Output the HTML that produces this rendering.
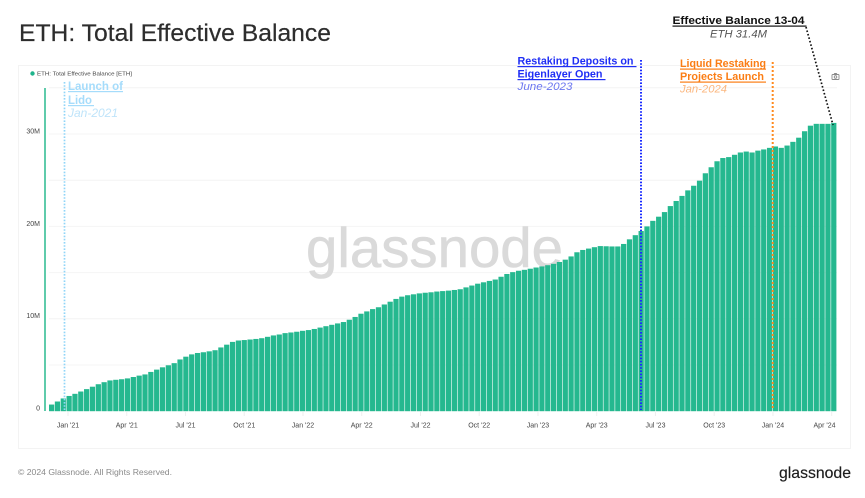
<!DOCTYPE html>
<html lang="en">
<head>
<meta charset="utf-8">
<title>ETH: Total Effective Balance</title>
<style>
html,body{margin:0;padding:0;background:#fff;width:865px;height:498px;overflow:hidden}
svg{display:block;font-family:"Liberation Sans",sans-serif}
</style>
</head>
<body>
<svg id="chart" width="865" height="498" viewBox="0 0 865 498">
  <rect x="0" y="0" width="865" height="498" fill="#ffffff"/>
  <text x="19" y="41" font-size="24" fill="#2d2d2d" stroke="#2d2d2d" stroke-width="0.2" textLength="312" lengthAdjust="spacingAndGlyphs">ETH: Total Effective Balance</text>
  <rect x="18.5" y="65.5" width="832" height="383" fill="#ffffff" stroke="#f3f3f3"/>
  <circle cx="32.5" cy="73.5" r="2.2" fill="#1fb48c"/>
  <text x="37" y="75.5" font-size="5.6" fill="#444" textLength="95" lengthAdjust="spacingAndGlyphs">ETH: Total Effective Balance [ETH]</text>
  <g id="grid"></g>
  <text x="306" y="267" font-size="56" fill="#dadada" stroke="#dadada" stroke-width="0.6" textLength="257" lengthAdjust="spacingAndGlyphs">glassnode</text>
  <rect x="44" y="88" width="2" height="323" fill="#5fcbab"/>
  <g id="bars"></g>
  <g id="yaxis"></g>
  <g id="xaxis"></g>

  <g fill="none" stroke="#8a8a8a" stroke-width="0.9">
    <rect x="832" y="74.5" width="7" height="5" rx="0.8"/>
    <circle cx="835.5" cy="77" r="1.3"/>
    <path d="M834 74.5 l0.6 -1 h1.8 l0.6 1"/>
  </g>

  <line x1="64.5" y1="82" x2="64.5" y2="410" stroke="#90d5f8" stroke-width="1.7" stroke-dasharray="1.6 1.6"/>
  <g>
    <text x="68" y="90" font-size="12" font-weight="bold" fill="#a5dcfb" textLength="55" lengthAdjust="spacingAndGlyphs">Launch of</text>
    <rect x="68" y="91" width="55" height="1.2" fill="#a5dcfb"/>
    <text x="68" y="104" font-size="12" font-weight="bold" fill="#a5dcfb" textLength="24" lengthAdjust="spacingAndGlyphs">Lido</text>
    <rect x="68" y="105" width="26" height="1.2" fill="#a5dcfb"/>
    <text x="68" y="117" font-size="12" font-style="italic" fill="#bfe4fa" textLength="50" lengthAdjust="spacingAndGlyphs">Jan-2021</text>
  </g>

  <line x1="641" y1="60" x2="641" y2="410" stroke="#1a2bff" stroke-width="2" stroke-dasharray="1.6 1.6"/>
  <g>
    <text x="517.5" y="64.5" font-size="11" font-weight="bold" fill="#1f2ef5" textLength="116" lengthAdjust="spacingAndGlyphs">Restaking Deposits on</text>
    <rect x="517.5" y="66" width="119" height="1.2" fill="#1f2ef5"/>
    <text x="517.5" y="77.5" font-size="11" font-weight="bold" fill="#1f2ef5" textLength="85" lengthAdjust="spacingAndGlyphs">Eigenlayer Open</text>
    <rect x="517.5" y="79" width="88" height="1.2" fill="#1f2ef5"/>
    <text x="517.5" y="90" font-size="11" font-style="italic" fill="#6b76f0" textLength="55" lengthAdjust="spacingAndGlyphs">June-2023</text>
  </g>

  <line x1="772.7" y1="62" x2="772.7" y2="410" stroke="#ff8a1f" stroke-width="2" stroke-dasharray="2 2"/>
  <g>
    <text x="680" y="67" font-size="11" font-weight="bold" fill="#fb7d14" textLength="86" lengthAdjust="spacingAndGlyphs">Liquid Restaking</text>
    <rect x="680" y="68.5" width="86" height="1.2" fill="#fb7d14"/>
    <text x="680" y="80" font-size="11" font-weight="bold" fill="#fb7d14" textLength="84" lengthAdjust="spacingAndGlyphs">Projects Launch</text>
    <rect x="680" y="81.5" width="86" height="1.2" fill="#fb7d14"/>
    <text x="680" y="92.5" font-size="11" font-style="italic" fill="#fbb77f" textLength="47" lengthAdjust="spacingAndGlyphs">Jan-2024</text>
  </g>

  <line x1="806" y1="27" x2="833" y2="125" stroke="#111" stroke-width="1.7" stroke-dasharray="1.6 2"/>
  <g>
    <text x="672.5" y="24" font-size="11" font-weight="bold" fill="#111" textLength="132" lengthAdjust="spacingAndGlyphs">Effective Balance 13-04</text>
    <rect x="672.5" y="25.5" width="134" height="1.2" fill="#111"/>
    <text x="710" y="37.5" font-size="11" font-style="italic" fill="#555" textLength="57" lengthAdjust="spacingAndGlyphs">ETH 31.4M</text>
  </g>

  <text x="18" y="475" font-size="8.6" fill="#8a8a8a" textLength="154" lengthAdjust="spacingAndGlyphs">© 2024 Glassnode. All Rights Reserved.</text>
  <text x="779" y="478" font-size="15.8" fill="#1c1c1c" stroke="#1c1c1c" stroke-width="0.15" textLength="72" lengthAdjust="spacingAndGlyphs">glassnode</text>
</svg>
<script>
const balanceValues = [
0.72,1.05,1.38,1.65,1.88,2.13,2.39,2.65,2.92,3.14,
3.33,3.40,3.46,3.55,3.70,3.85,3.98,4.25,4.50,4.75,
4.97,5.20,5.60,5.90,6.15,6.30,6.38,6.48,6.60,6.90,
7.20,7.50,7.65,7.70,7.76,7.82,7.90,8.05,8.20,8.30,
8.45,8.52,8.60,8.70,8.78,8.90,9.05,9.20,9.35,9.50,
9.65,9.90,10.20,10.55,10.80,11.05,11.25,11.55,11.85,12.15,
12.40,12.55,12.65,12.75,12.82,12.87,12.95,13.00,13.05,13.12,
13.20,13.40,13.60,13.80,13.95,14.10,14.25,14.55,14.85,15.05,
15.20,15.30,15.42,15.55,15.67,15.80,15.95,16.15,16.40,16.75,
17.20,17.45,17.60,17.75,17.87,17.85,17.83,17.83,18.10,18.60,
19.05,19.50,20.00,20.60,21.05,21.55,22.20,22.75,23.30,23.90,
24.40,24.95,25.75,26.40,27.05,27.40,27.50,27.75,28.00,28.10,
28.00,28.20,28.33,28.50,28.65,28.50,28.75,29.15,29.60,30.30,
30.90,31.10,31.10,31.10,31.20
];
const yGridValues = [5,10,15,20,25,30,35];
const yTickValues = [0,10,20,30];
const yTickLabels = ['0','10M','20M','30M'];
const xTickMonths = [0,3,6,9,12,15,18,21,24,27,30,33,36,39];
const xTickLabels = ["Jan '21","Apr '21","Jul '21","Oct '21","Jan '22","Apr '22","Jul '22","Oct '22","Jan '23","Apr '23","Jul '23","Oct '23","Jan '24","Apr '24"];

const NS = 'http://www.w3.org/2000/svg';
const plotLeft = 49, plotRight = 837, baseY = 411.2, pxPerMillion = 9.24;
function yScale(v) { return baseY - v * pxPerMillion; }
function monthScale(m) { return 68 + m * (763.7 / 39); }
function barBand() { return (plotRight - plotLeft) / balanceValues.length; }
function barX(i) { return plotLeft + i * barBand(); }
function make(tag, attrs, parent) {
  const el = document.createElementNS(NS, tag);
  for (const k in attrs) el.setAttribute(k, attrs[k]);
  parent.appendChild(el);
  return el;
}

const gridG = document.getElementById('grid');
yGridValues.forEach(function (v) {
  const l = make('line', {x1: plotLeft, x2: plotRight, y1: yScale(v), y2: yScale(v), stroke: '#f4f4f4', 'stroke-width': 1}, gridG);
  
  
});

const barsG = document.getElementById('bars');
balanceValues.forEach(function (v, i) {
  const b = make('rect', {x: barX(i), y: yScale(v), width: barBand() - 0.6, height: baseY - yScale(v), fill: '#25b88f'}, barsG);
  
  
});

const yG = document.getElementById('yaxis');
yTickValues.forEach(function (v, i) {
  const t = make('text', {x: 40, y: yScale(v) - 0.6, 'font-size': 7, fill: '#444', 'text-anchor': 'end'}, yG);
  t.textContent = yTickLabels[i];
  
  
});

const xG = document.getElementById('xaxis');
xTickMonths.forEach(function (m, i) {
  const x = monthScale(m);
  const tick = make('line', {x1: x, x2: x, y1: 412, y2: 416, stroke: '#eeeeee', 'stroke-width': 1}, xG);
  
  
  const t = make('text', {x: Math.min(x, 824.5), y: 427.5, 'font-size': 7, fill: '#444', 'text-anchor': 'middle'}, xG);
  t.textContent = xTickLabels[i];
  
  
});
</script>
</body>
</html>
